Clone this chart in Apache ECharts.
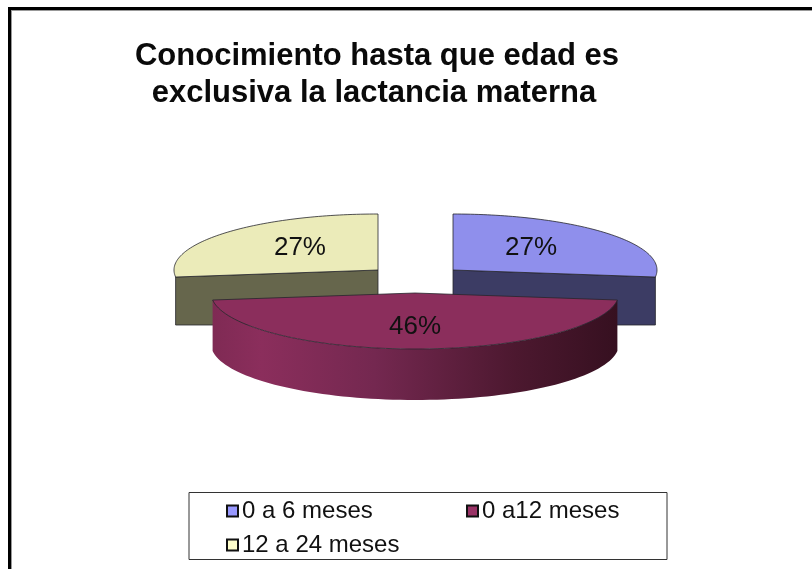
<!DOCTYPE html>
<html><head><meta charset="utf-8">
<style>html,body{margin:0;padding:0;background:#fff}#c{width:812px;height:569px;filter:blur(0.45px)}</style>
<script src="https://cdn.jsdelivr.net/npm/echarts@6/dist/echarts.min.js"></script>
</head><body><div id="c"></div>
<script>
const categories = ['0 a 6 meses', '0 a12 meses', '12 a 24 meses'];
const values = [27, 46, 27];
const titleLines = ['Conocimiento hasta que edad es', 'exclusiva la lactancia materna'];

const legendColors = ['#9999ff', '#993366', '#ffffcc'];
const topColors = ['#8f8fec', '#8b2e5c', '#ebebb9'];
const sideColors = ['#3c3c64', null, '#66664c'];
const offsets = [[38, -23], [0, 0], [-37, -23]];
const pie = {cx: 415, cy: 293, rx: 204, ry: 56, depth: 51};
const sideBottomExtra = 4;
const font = '"Liberation Sans", Arial, sans-serif';

const total = values.reduce((a, b) => a + b, 0);
const starts = values.map((v, i) => values.slice(0, i).reduce((a, b) => a + b, 0) / total * Math.PI * 2);

function arc(cx, cy, a0, a1) {
  const pts = [], n = 80;
  for (let k = 0; k <= n; k++) {
    const a = a0 + (a1 - a0) * k / n;
    pts.push([cx + pie.rx * Math.sin(a), cy - pie.ry * Math.cos(a)]);
  }
  return pts;
}
const outline = {stroke: '#26262c', lineWidth: 0.8, lineJoin: 'round'};

function renderSlice(params) {
  const i = params.seriesIndex;
  const a0 = starts[i], a1 = a0 + values[i] / total * Math.PI * 2;
  const cx = pie.cx + offsets[i][0], cy = pie.cy + offsets[i][1];
  const top = arc(cx, cy, a0, a1);
  const children = [];
  if (sideColors[i]) {
    const edge = i === 0 ? top[top.length - 1] : top[0];
    const bottom = cy + pie.depth + sideBottomExtra;
    children.push({type: 'polygon', shape: {points: [[cx, cy], edge, [edge[0], bottom], [cx, bottom]]},
      style: Object.assign({fill: sideColors[i]}, outline)});
  } else {
    const back = top.map(p => [p[0], p[1] + pie.depth]).reverse();
    children.push({type: 'polygon', shape: {points: top.concat(back)},
      style: Object.assign({fill: new echarts.graphic.LinearGradient(0, 0, 1, 0, [
        {offset: 0, color: '#7f2a54'}, {offset: 0.12, color: '#8b2e5c'}, {offset: 0.4, color: '#742850'},
        {offset: 0.75, color: '#4c182f'}, {offset: 1, color: '#361020'}])}, {stroke: 'none'})});
  }
  children.push({type: 'polygon', shape: {points: [[cx, cy]].concat(top)},
    style: Object.assign({fill: topColors[i]}, outline)});
  const mid = (a0 + a1) / 2;
  children.push({type: 'text', style: {
    text: Math.round(values[i] / total * 100) + '%',
    x: cx + 0.51 * pie.rx * Math.sin(mid), y: cy - 0.6 * pie.ry * Math.cos(mid),
    align: 'center', verticalAlign: 'middle', fill: '#111',
    font: '26px ' + font}});
  return {type: 'group', children};
}

const titleStyle = {fontFamily: font, fontWeight: 'bold', fontSize: 31, color: '#0a0a0a'};
const chart = echarts.init(document.getElementById('c'), null, {renderer: 'canvas'});
chart.setOption({
  animation: false,
  backgroundColor: '#fff',
  title: [
    {text: titleLines[0], left: 377, top: 41, textAlign: 'center', padding: 0, textStyle: titleStyle},
    {text: titleLines[1], left: 374, top: 78, textAlign: 'center', padding: 0, textStyle: titleStyle}
  ],
  legend: {
    left: 226, top: 499, width: 480, itemWidth: 11, itemHeight: 11, itemGap: 10,
    padding: 0, selectedMode: false, icon: 'rect',
    textStyle: {fontFamily: font, fontSize: 24, color: '#111', width: 214, lineHeight: 24, padding: [0, 0, 0, -1]},
    data: categories.map((name, i) => ({name, itemStyle: {color: legendColors[i], borderColor: '#111', borderWidth: 2}}))
  },
  graphic: [
    {type: 'rect', shape: {x: 8, y: 7, width: 804, height: 3}, style: {fill: '#000'}, z: 10},
    {type: 'rect', shape: {x: 8, y: 7, width: 3, height: 562}, style: {fill: '#000'}, z: 10},
    {type: 'rect', shape: {x: 11, y: 10, width: 801, height: 1}, style: {fill: '#999'}, z: 10},
    {type: 'rect', shape: {x: 11, y: 10, width: 1, height: 559}, style: {fill: '#999'}, z: 10},
    {type: 'rect', shape: {x: 189, y: 492.5, width: 478, height: 67}, style: {fill: '#fff', stroke: '#333', lineWidth: 1}, z: 0}
  ],
  series: categories.map((name, i) => ({
    type: 'custom', name, coordinateSystem: 'none', silent: true, clip: false,
    z: i === 1 ? 5 : 2,
    itemStyle: {color: legendColors[i]},
    renderItem: renderSlice,
    data: [[values[i]]]
  }))
});
</script></body></html>
